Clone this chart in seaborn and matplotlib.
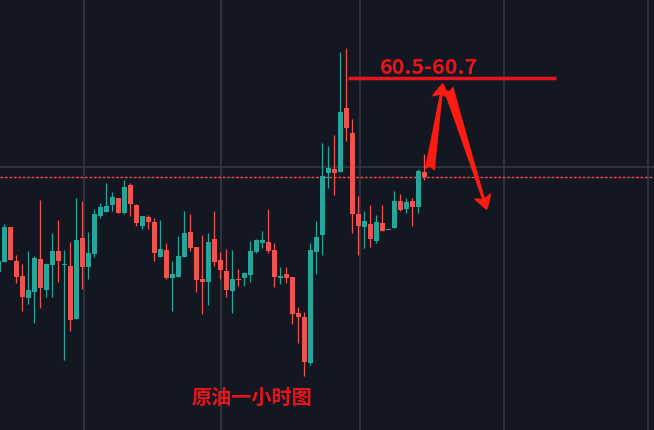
import numpy as np
import pandas as pd
import seaborn as sns
import matplotlib
matplotlib.use('Agg')
import matplotlib.pyplot as plt

# hourly crude oil candles (first one is cut by the left edge)
opens = [58.66, 58.76, 59.11, 58.77, 58.62, 58.40, 58.46, 58.79, 58.48, 58.73, 58.87, 58.73,
         58.72, 58.19, 59.00, 58.71, 58.84, 59.22, 59.26, 59.33, 59.40, 59.25, 59.53, 59.33,
         59.12, 59.21, 59.16, 58.81, 58.88, 58.60, 58.61, 58.81, 59.06, 58.91, 58.59, 58.56,
         58.99, 58.78, 58.67, 58.47, 58.59, 58.60, 58.63, 58.86, 58.95, 58.96, 58.88, 58.60,
         58.64, 58.61, 58.25, 58.21, 57.75, 58.86, 59.03, 59.65, 59.69, 59.66, 60.30, 60.05,
         59.24, 59.11, 59.14, 58.97, 59.15, 59.08, 59.10, 59.37, 59.29, 59.37, 59.31, 59.66]
highs = [58.78, 59.14, 59.11, 58.83, 58.74, 58.87, 58.82, 59.38, 58.75, 59.05, 59.18, 58.88,
         58.96, 59.40, 59.37, 59.06, 59.29, 59.35, 59.55, 59.46, 59.40, 59.58, 59.55, 59.34,
         59.22, 59.23, 59.20, 59.18, 58.95, 58.77, 59.02, 59.27, 59.24, 58.91, 59.03, 59.05,
         59.27, 58.86, 58.89, 58.88, 58.69, 58.66, 58.97, 58.99, 59.07, 59.29, 58.95, 58.71,
         58.71, 58.61, 58.31, 58.26, 58.95, 59.17, 59.95, 59.92, 60.03, 60.86, 60.90, 60.19,
         59.42, 59.27, 59.33, 59.23, 59.33, 59.08, 59.47, 59.44, 59.40, 59.40, 59.69, 59.84]
lows = [58.65, 58.76, 58.78, 58.55, 58.27, 58.34, 58.15, 58.30, 58.41, 58.41, 58.56, 57.78,
        58.07, 58.19, 58.49, 58.59, 58.81, 59.20, 59.26, 59.27, 59.25, 59.24, 59.22, 59.12,
        59.09, 59.09, 58.77, 58.81, 58.59, 58.27, 58.61, 58.81, 58.87, 58.46, 58.24, 58.33,
        58.72, 58.59, 58.41, 58.25, 58.52, 58.52, 58.56, 58.85, 58.90, 58.85, 58.51, 58.54,
        58.55, 58.14, 57.95, 57.62, 57.73, 58.64, 58.83, 59.50, 59.43, 59.66, 59.97, 59.05,
        58.83, 58.90, 58.91, 58.95, 59.07, 59.08, 59.10, 59.27, 59.25, 59.12, 59.25, 59.58]
closes = [58.77, 59.11, 58.78, 58.61, 58.41, 58.48, 58.80, 58.50, 58.74, 58.87, 58.77, 58.74,
          58.18, 58.98, 58.71, 58.85, 59.24, 59.31, 59.32, 59.41, 59.25, 59.51, 59.34, 59.15,
          59.22, 59.16, 58.85, 58.89, 58.60, 58.64, 58.82, 59.05, 58.90, 58.58, 58.56, 58.96,
          58.76, 58.68, 58.48, 58.59, 58.58, 58.65, 58.87, 58.98, 58.98, 58.87, 58.61, 58.62,
          58.60, 58.24, 58.21, 57.76, 58.88, 59.01, 59.62, 59.70, 59.65, 60.26, 60.10, 59.24,
          59.12, 59.17, 58.99, 59.16, 59.07, 59.08, 59.37, 59.28, 59.36, 59.31, 59.67, 59.61]

target_lo, target_hi = 60.5, 60.7
target_label = '60.5-60.7'
title_text = '原油一小时图'
grid_x = [13.2, 36.1, 59.2, 83.2, 107.2]   # bar index of the vertical grid lines
grid_y = [59.71]

bg = '#131722'
up_col = '#26a69a'
down_col = '#ef5350'
mark_red = '#e8141c'
arrow_red = '#ff1a12'

df = pd.DataFrame({'open': opens, 'high': highs, 'low': lows, 'close': closes})
df['idx'] = np.arange(-1, len(df) - 1)
df['up'] = df['close'] >= df['open']
df['color'] = np.where(df['up'], up_col, down_col)
df['bottom'] = df[['open', 'close']].min(axis=1)
df['height'] = (df['close'] - df['open']).abs().clip(lower=0.012)

sns.set_theme(style='dark', rc={'axes.facecolor': bg, 'figure.facecolor': bg})
plt.rcParams['font.family'] = ['Noto Sans CJK SC', 'DejaVu Sans']

fig = plt.figure(figsize=(6.54, 4.30), dpi=100)
ax = fig.add_axes([0, 0, 1, 1])
ax.set_facecolor(bg)

ax.set_xticks(grid_x)
ax.set_yticks(grid_y)
ax.grid(True, color='#363a45', lw=1.1)
ax.tick_params(length=0, labelbottom=False, labelleft=False)
for s in ax.spines.values():
    s.set_visible(False)

# wicks then bodies
ax.vlines(df['idx'], df['low'], df['high'], colors=df['color'], lw=0.9, zorder=2)
ax.bar(df['idx'], df['height'], bottom=df['bottom'], width=0.82, color=df['color'],
       linewidth=0, zorder=3)

# last price line
ax.axhline(closes[-1], color='#f7474f', lw=1.0, ls=(0, (2, 1.2)), zorder=1)

# target zone annotation
mid = (target_lo + target_hi) / 2
ax.hlines(mid, 57.2, 91.95, color=mark_red, lw=2.5, zorder=5)
ax.text(70.8, 60.705, target_label, color=mark_red, fontsize=15.5, fontweight='bold',
        ha='center', va='center', zorder=6)

arrow_style = 'fancy,head_length=1.1,head_width=1.3,tail_width=0.75'
ax.annotate('', xy=(73.1, 60.55), xytext=(70.9, 59.68),
            arrowprops=dict(arrowstyle=arrow_style, color=arrow_red, lw=0, mutation_scale=10,
                            shrinkA=0, shrinkB=0), zorder=6)
ax.annotate('', xy=(80.45, 59.28), xytext=(74.0, 60.50),
            arrowprops=dict(arrowstyle=arrow_style, color=arrow_red, lw=0, mutation_scale=10,
                            shrinkA=0, shrinkB=0), zorder=6)

ax.text(41.2, 57.41, title_text, color=mark_red, fontsize=14.5, fontweight='bold',
        ha='center', va='center', zorder=6)

ax.set_xlim(-0.717, 108.28)
ax.set_ylim(57.08, 61.38)

fig.savefig('out.png', dpi=100, facecolor=bg)
